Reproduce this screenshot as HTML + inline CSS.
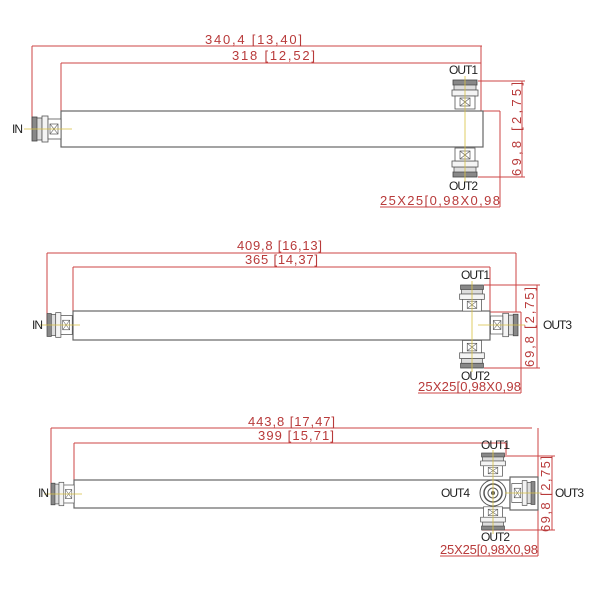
<!DOCTYPE html>
<html><head><meta charset="utf-8"><style>
html,body{margin:0;padding:0;background:#fff}
svg{display:block}
.d{stroke:#cc4444;stroke-width:1;fill:none}
.t{fill:#b83a3a;font-family:"Liberation Sans",sans-serif;font-size:13px}
.l{fill:#222;font-family:"Liberation Sans",sans-serif;font-size:12px;letter-spacing:-1px}
.b{fill:#fff;stroke:#666;stroke-width:1.2}
.y{stroke:#d8c040;stroke-width:0.8}
</style></head><body>
<svg width="600" height="600" viewBox="0 0 600 600" xmlns="http://www.w3.org/2000/svg">
<defs>
<g id="c">
<rect x="-12" y="0" width="24" height="5" fill="#888" stroke="#444" stroke-width="0.8"/>
<rect x="-11" y="5" width="22" height="5" fill="#ddd" stroke="#555" stroke-width="0.8"/>
<rect x="-13" y="10" width="26" height="6" fill="#f4f4f4" stroke="#555" stroke-width="0.8"/>
<rect x="-10" y="16" width="20" height="13" fill="#fff" stroke="#555" stroke-width="0.8"/>
<rect x="-5" y="18" width="10" height="8" fill="none" stroke="#555" stroke-width="0.7"/>
<path d="M-5 18L5 26M5 18L-5 26" stroke="#555" stroke-width="0.6"/>
</g>
</defs>

<!-- Diagram 1 -->
<path class="d" d="M32 46H482M32 46V129M61 63H481M61 63V111M481 46V111M478 81H525M478 177H525M522 81V177M483 111H500M500 111V207M380 207H500"/>
<text class="t" x="205" y="44" textLength="97" lengthAdjust="spacing">340,4  [13,40]</text>
<text class="t" x="232" y="60" textLength="83" lengthAdjust="spacing">318  [12,52]</text>
<rect class="b" x="61" y="111" width="422" height="36"/>
<use href="#c" transform="translate(32,129) rotate(-90)"/>
<use href="#c" transform="translate(465,80)"/>
<use href="#c" transform="translate(465,177) rotate(180)"/>
<path class="y" d="M24 129H72M465 76V182"/>
<text class="l" x="12" y="133">IN</text>
<text class="l" x="449" y="74">OUT1</text>
<text class="l" x="449" y="190">OUT2</text>
<text class="t" transform="translate(521,129) rotate(-90)" x="-47" textLength="94" lengthAdjust="spacing">69,8  [2,75]</text>
<text class="t" x="380" y="205" textLength="120" lengthAdjust="spacing">25X25[0,98X0,98</text>

<!-- Diagram 2 -->
<path class="d" d="M47 253H516M47 253V325M73 267H490M73 267V311M490 267V311M516 253V312M484 285H540M484 368H540M537 285V368M488 312H521M521 312V393M418 393H521"/>
<text class="t" x="237" y="250" textLength="85" lengthAdjust="spacing">409,8  [16,13]</text>
<text class="t" x="245" y="264" textLength="73" lengthAdjust="spacing">365  [14,37]</text>
<rect class="b" x="73" y="311" width="417" height="29"/>
<use href="#c" transform="translate(47,325) rotate(-90) scale(0.95,0.87)"/>
<use href="#c" transform="translate(472,285) scale(0.95,0.9)"/>
<use href="#c" transform="translate(472,368) rotate(180) scale(0.95,0.95)"/>
<use href="#c" transform="translate(518,325) rotate(90) scale(0.9,0.95)"/>
<path class="y" d="M40 325H80M472 281V372M478 325H525"/>
<text class="l" x="32" y="329">IN</text>
<text class="l" x="461" y="279">OUT1</text>
<text class="l" x="461" y="380">OUT2</text>
<text class="l" x="543" y="329">OUT3</text>
<text class="t" transform="translate(534,327) rotate(-90)" x="-40" textLength="80" lengthAdjust="spacing">69,8  [2,75]</text>
<text class="t" x="418" y="391" textLength="103" lengthAdjust="spacing">25X25[0,98X0,98</text>

<!-- Diagram 3 -->
<path class="d" d="M51 428H532M51 428V494M74 443H506M74 443V480M506 443V455M482 456H555M482 530H555M552 456V530M510 477H538M538 428V556M440 556H538"/>
<text class="t" x="248" y="426" textLength="87" lengthAdjust="spacing">443,8  [17,47]</text>
<text class="t" x="258" y="440" textLength="76" lengthAdjust="spacing">399  [15,71]</text>
<rect class="b" x="74" y="480" width="436" height="28"/>
<rect class="b" x="510" y="477" width="28" height="33"/>
<use href="#c" transform="translate(51,494) rotate(-90) scale(0.9,0.8)"/>
<use href="#c" transform="translate(493,453) scale(0.95,0.8)"/>
<use href="#c" transform="translate(493,530) rotate(180) scale(0.95,0.8)"/>
<use href="#c" transform="translate(535,493) rotate(90) scale(0.95,0.8)"/>
<circle cx="493" cy="493" r="13" fill="#fff" stroke="#555" stroke-width="1"/>
<circle cx="493" cy="493" r="9" fill="none" stroke="#555" stroke-width="1.5"/>
<circle cx="493" cy="493" r="5" fill="none" stroke="#555" stroke-width="1"/>
<circle cx="493" cy="493" r="2" fill="#555"/>
<path class="y" d="M44 494H82M493 450V534M505 493H540"/>
<text class="l" x="38" y="497">IN</text>
<text class="l" x="481" y="449">OUT1</text>
<text class="l" x="481" y="541">OUT2</text>
<text class="l" x="555" y="497">OUT3</text>
<text class="l" x="441" y="497">OUT4</text>
<text class="t" transform="translate(550,494) rotate(-90)" x="-38" textLength="76" lengthAdjust="spacing">69,8  [2,75]</text>
<text class="t" x="440" y="554" textLength="98" lengthAdjust="spacing">25X25[0,98X0,98</text>
</svg>
</body></html>
